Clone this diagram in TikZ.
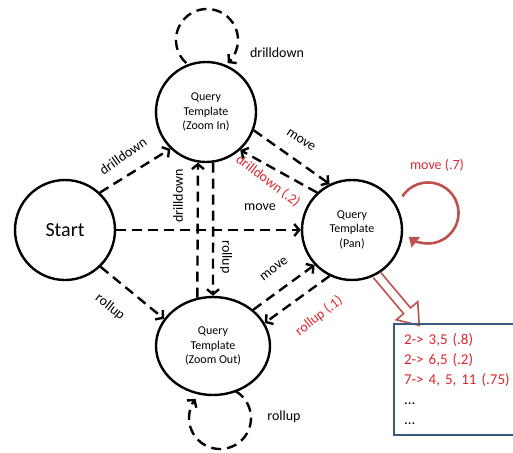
\documentclass[tikz,border=0pt]{standalone}
\usepackage{fontspec}
\setmainfont{Carlito}
\usetikzlibrary{arrows.meta,shapes.geometric}
\definecolor{labred}{RGB}{222,38,48}
\definecolor{loopred}{RGB}{192,80,77}
\definecolor{boxblue}{RGB}{60,90,125}
\begin{document}
\begin{tikzpicture}[x=1pt,y=1pt,
  state/.style={circle,draw,line width=2.4pt,minimum size=100pt,inner sep=0pt,align=center,font=\fontsize{12}{14.5}\selectfont},
  tr/.style={line width=2.4pt,dash pattern=on 10pt off 6pt,-{Straight Barb[length=5pt,width=12pt]}},
  lab/.style={font=\fontsize{14}{16}\selectfont,inner sep=1pt},
  rlab/.style={lab,text=labred}]
\useasboundingbox (0,0) rectangle (513,-452);
\clip (0,0) rectangle (513,-452);

% states
\node[state,font=\fontsize{20}{22}\selectfont] (start) at (65,-230) {Start};
\node[state] (zin) at (206,-112) {Query\\Template\\(Zoom In)};
\node[state] (pan) at (352,-230) {\raisebox{6pt}{\begin{tabular}{@{}c@{}}Query\\Template\\(Pan)\end{tabular}}};
\node[state,ellipse,minimum width=114pt,minimum height=98pt] (zout) at (213,-346) {Query\\Template\\(Zoom Out)};

% transitions
\draw[tr] (start.47) -- (zin.226);
\draw[tr] (start.0) -- (pan.180);
\draw[tr] (start.-46) -- (zout.151);
\draw[tr] (zout.108) -- (zin.261);
\draw[tr] (zin.278) -- (zout.90);
\draw[tr] (zin.-21) -- (pan.116);
\draw[tr] (pan.133) -- (zin.-48);
\draw[tr] (zout.42) -- (pan.223);
\draw[tr] (pan.244) -- (zout.24);

% self loops
\coordinate (zinloop) at (207,-40);
\draw[tr] (zinloop) ++(228:31) arc[start angle=228,end angle=-48,radius=31];
\coordinate (zoutloop) at (220,-418);
\draw[tr] (zoutloop) ++(60:31) arc[start angle=60,end angle=-218,radius=31];
\coordinate (panloop) at (428,-213);
\draw[loopred,line width=2.6pt,-{Triangle[length=9pt,width=13pt]}] (panloop) ++(147:30.5) arc[start angle=147,end angle=-129,radius=30.5];

% labels
\node[lab,rotate=35] (l1) at (123,-156) {drilldown};
\node[lab] (l2) at (260,-207) {move};
\node[lab,rotate=-38] (l3) at (110,-307) {rollup};
\node[lab,rotate=90] (l4) at (178,-196) {drilldown};
\node[lab,rotate=-90] (l5) at (226,-257) {rollup};
\node[lab,rotate=-33] (l6) at (301,-140) {move};
\node[rlab,rotate=-37] (l7) at (268,-181) {drilldown (.2)};
\node[lab,rotate=38] (l8) at (274,-269) {move};
\node[rlab,rotate=38] (l9) at (319,-316) {rollup (.1)};
\node[lab] (l10) at (277,-53) {drilldown};
\node[lab] (l11) at (284,-417) {rollup};
\node[rlab] (l12) at (437,-165) {move (.7)};

% hollow arrow
\begin{scope}[shift={(pan.-61)},rotate=-50]
\draw[loopred,line width=1.6pt,line join=miter] (0,4.5) -- (47,4.5) -- (47,14) -- (66,0) -- (47,-14) -- (47,-4.5) -- (0,-4.5);
\end{scope}

% box
\node[draw=boxblue,line width=2pt,anchor=north west,minimum width=130pt,minimum height=111pt,
      inner xsep=10pt,text width=110pt,align=left,font=\fontsize{15}{20}\selectfont] (box) at (393,-323)
  {\textcolor{labred}{2-> 3,5 (.8)}\\\textcolor{labred}{2-> 6,5 (.2)}\\\textcolor{labred}{7-> 4, 5, 11 (.75)}\\...\\...};
\end{tikzpicture}
\end{document}
